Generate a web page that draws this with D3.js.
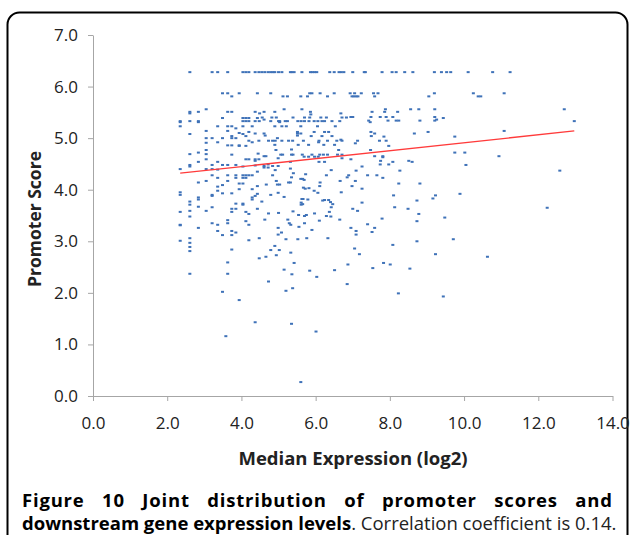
<!DOCTYPE html>
<html>
<head>
<meta charset="utf-8">
<script src="https://cdn.jsdelivr.net/npm/d3@7"></script>
<style>
  body { margin: 0; background: #fff; }
  svg { display: block; }
</style>
</head>
<body>
<svg id="chart" width="630" height="535"></svg>
<script>
// values: [median expression (log2), promoter score]
var scatterPoints = [
  [2.61,6.28],[3.21,6.28],[3.36,6.28],[3.63,6.28],[4.04,6.28],[4.12,6.28],[4.20,6.28],[4.37,6.28],[4.47,6.28],
  [3.49,5.87],[3.63,5.87],[3.94,5.87],[4.43,5.87],[3.74,5.81],[3.05,5.56],
  [2.61,5.51],[2.84,5.51],[3.63,5.51],[3.74,5.51],[4.37,5.51],[2.61,5.48],
  [3.49,5.39],[4.04,5.39],[4.12,5.39],[4.20,5.39],[4.43,5.39],
  [2.35,5.33],[2.61,5.33],[2.84,5.33],[4.04,5.33],[4.12,5.33],[4.20,5.33],[4.37,5.33],[4.48,5.33],
  [2.35,5.31],[2.84,5.31],
  [2.35,5.23],[3.36,5.23],[3.63,5.23],[3.74,5.23],[4.04,5.23],[4.29,5.23],[3.85,5.19],
  [3.05,5.14],[3.63,5.14],[3.94,5.10],[2.61,5.08],[4.04,5.08],[4.20,5.12],[4.37,5.09],[3.74,5.04],[4.12,5.04],
  [3.05,5.00],[3.21,5.00],[3.49,5.00],[3.74,5.00],[3.85,5.00],[4.20,4.95],[4.47,4.95],[3.36,4.92],[4.29,4.92],[3.05,4.91],
  [3.63,4.86],[3.74,4.86],[3.94,4.86],[3.94,4.85],[4.12,4.85],[3.05,4.77],[2.84,4.72],[2.61,4.69],[3.05,4.69],[3.74,4.68],
  [3.05,4.59],[4.12,4.59],[4.20,4.59],[4.37,4.59],[4.47,4.59],[4.37,4.56],[2.84,4.54],[3.36,4.54],
  [2.61,4.48],[3.21,4.48],[3.49,4.48],[3.63,4.48],[3.85,4.48],[2.61,4.45],[4.04,4.45],[4.37,4.47],
  [2.35,4.40],[3.05,4.40],[3.21,4.40],[3.36,4.39],[4.43,4.35],
  [3.21,4.28],[3.63,4.28],[3.85,4.28],[4.04,4.28],[4.12,4.28],[4.20,4.28],[4.29,4.28],
  [3.36,4.23],[3.85,4.23],[4.04,4.23],[4.12,4.23],[3.05,4.17],[3.63,4.17],[2.84,4.14],[3.94,4.12],[4.04,4.12],
  [4.43,4.07],[3.49,4.09],[3.36,4.06],[3.94,4.01],[4.29,4.01],[3.36,3.98],[2.35,3.95],[3.49,3.93],[3.74,3.93],
  [2.35,3.90],[3.21,3.90],[3.21,3.88],[4.37,3.88],[4.43,3.92],[2.84,3.85],[4.29,3.85],[2.84,3.81],[4.29,3.81],
  [2.61,3.77],[3.85,3.73],[4.04,3.73],[2.61,3.71],[4.04,3.71],[2.84,3.67],[3.21,3.66],[3.74,3.63],[3.85,3.63],[4.43,3.63],
  [2.61,3.59],[3.05,3.59],[2.35,3.57],[3.74,3.57],[4.12,3.57],[4.20,3.53],[2.61,3.48],[3.63,3.41],[4.12,3.39],
  [3.21,3.35],[3.63,3.35],[2.35,3.32],[3.36,3.32],[4.20,3.32],[2.35,3.31],[2.84,3.26],[3.36,3.20],[3.74,3.20],[3.85,3.17],
  [3.49,3.12],[3.74,3.12],[2.61,3.06],[4.48,3.06],[4.20,3.02],[2.35,3.01],[2.61,2.97],[2.61,2.89],[3.74,2.84],[2.61,2.81],
  [4.48,2.67],[3.63,2.59],[2.61,2.37],[3.63,2.37],[3.49,2.02],[3.94,1.86],[4.37,1.43],[3.58,1.16],

  [4.55,6.28],[4.63,6.28],[4.72,6.28],[4.79,6.28],[4.85,6.28],[4.90,6.28],[5.00,6.28],[5.09,6.28],[5.32,6.28],[5.36,6.28],
  [5.42,6.28],[5.63,6.28],[5.86,6.28],[5.91,6.28],[5.97,6.28],[6.03,6.28],[6.38,6.28],[6.50,6.28],[6.63,6.28],[6.69,6.28],[6.76,6.28],
  [4.79,5.87],[5.84,5.87],[5.90,5.87],[6.12,5.87],[6.50,5.87],[5.12,5.81],[5.24,5.81],[5.60,5.81],[5.78,5.81],[6.32,5.81],
  [5.15,5.56],[5.63,5.56],[4.61,5.51],[4.90,5.51],[5.86,5.51],[4.49,5.48],[6.68,5.48],[5.87,5.46],
  [4.56,5.40],[4.82,5.40],[4.94,5.40],[5.39,5.40],[5.70,5.40],[5.84,5.40],[6.14,5.40],[6.29,5.40],[6.71,5.40],[6.83,5.40],
  [4.61,5.36],
  [4.79,5.33],[5.00,5.33],[5.03,5.33],[5.18,5.33],[5.24,5.33],[5.52,5.33],[5.61,5.33],[5.70,5.33],[5.82,5.33],[5.96,5.33],
  [6.06,5.33],[6.17,5.33],[6.24,5.33],[6.44,5.33],[6.65,5.33],[5.03,5.31],
  [4.90,5.23],[5.09,5.23],[5.21,5.23],[5.60,5.23],[6.05,5.23],[6.53,5.23],
  [5.51,5.12],[5.96,5.12],[6.24,5.12],[6.35,5.12],[4.61,5.09],[5.51,5.09],[5.60,5.09],[4.64,5.05],[5.51,5.05],
  [5.88,5.04],[6.17,5.04],[6.44,5.04],[4.97,5.00],[6.68,4.97],
  [4.73,4.95],[4.84,4.95],[4.91,4.95],[5.09,4.95],[5.27,4.95],[5.38,4.95],[5.67,4.95],[6.09,4.95],[6.32,4.95],[6.57,4.95],[6.71,4.95],
  [6.08,4.92],[4.90,4.87],[5.53,4.87],[5.81,4.87],[6.22,4.87],[6.51,4.87],[5.35,4.78],[4.93,4.77],[6.62,4.77],[4.45,4.70],
  [5.06,4.68],[5.11,4.68],[5.35,4.68],[5.39,4.68],[5.64,4.68],[5.90,4.68],[6.11,4.68],[6.21,4.68],[6.32,4.68],[6.59,4.68],[6.71,4.68],
  [4.61,4.65],[4.66,4.65],[5.69,4.64],[5.81,4.64],[5.97,4.64],[6.07,4.64],[4.99,4.61],[6.71,4.61],
  [5.32,4.54],[6.09,4.54],[6.24,4.54],[4.72,4.49],[4.61,4.46],[4.84,4.46],[4.99,4.46],[4.61,4.43],[4.72,4.43],[5.32,4.41],
  [4.91,4.38],[6.42,4.38],[5.40,4.32],[5.73,4.30],[4.84,4.28],[6.29,4.28],[5.35,4.24],[6.85,4.24],[5.60,4.21],[5.65,4.21],
  [5.69,4.19],[4.94,4.17],[6.66,4.17],[5.27,4.14],[5.32,4.14],[6.12,4.14],[4.67,4.10],[4.97,4.10],[5.03,4.10],[6.11,4.07],
  [5.67,4.04],[5.82,4.03],[5.72,4.02],[5.96,3.98],[6.69,3.95],[4.99,3.94],[6.06,3.94],[4.79,3.90],[5.15,3.86],
  [5.63,3.82],[5.66,3.82],[5.79,3.81],[6.24,3.80],[6.35,3.80],[6.19,3.79],[4.55,3.77],[6.40,3.76],[5.61,3.75],
  [5.65,3.72],[6.46,3.72],[5.61,3.71],[6.42,3.66],[5.39,3.58],[6.37,3.57],[5.00,3.55],[4.73,3.54],[5.97,3.54],
  [5.54,3.51],[5.75,3.51],[5.70,3.49],[6.29,3.49],[6.41,3.48],[4.63,3.42],[5.25,3.42],[6.65,3.42],[6.10,3.40],
  [5.29,3.35],[5.70,3.35],[5.33,3.32],[5.55,3.28],[4.99,3.26],[5.90,3.22],[5.08,3.17],[4.99,3.13],[5.76,3.06],[6.33,3.06],
  [5.20,3.04],[5.52,3.04],[4.90,2.91],[4.79,2.83],[5.02,2.83],[5.33,2.78],[4.94,2.73],[4.66,2.70],[5.42,2.58],[6.87,2.55],
  [5.15,2.45],[6.51,2.44],[5.84,2.43],[5.36,2.36],[6.03,2.31],[4.73,2.22],[6.85,2.17],[5.38,2.09],[5.20,2.04],
  [5.35,1.40],[6.01,1.25],[5.60,0.27],

  [7.00,6.28],[7.31,6.28],[7.34,6.28],[7.79,6.28],[8.06,6.28],[8.17,6.28],[8.40,6.28],[8.62,6.28],[9.20,6.28],
  [6.93,5.87],[7.05,5.87],[7.23,5.87],[7.56,5.87],[7.68,5.87],[9.20,5.87],
  [6.98,5.81],[7.03,5.81],[7.09,5.81],[7.14,5.81],[7.59,5.81],[9.05,5.81],
  [7.88,5.56],[8.56,5.56],[8.78,5.56],[9.21,5.56],[7.52,5.51],[7.86,5.51],[8.21,5.51],
  [6.95,5.41],[7.00,5.41],[7.49,5.41],[7.74,5.41],[7.90,5.41],[8.08,5.41],[9.21,5.41],
  [7.43,5.34],[7.95,5.34],[8.17,5.34],[8.24,5.34],[8.81,5.34],[9.21,5.34],[7.47,5.31],
  [7.49,5.12],[9.03,5.12],[7.59,5.09],[8.66,5.09],[7.50,5.04],[7.84,5.03],[7.13,4.95],[7.72,4.95],[7.90,4.95],
  [7.07,4.90],[7.97,4.85],[7.48,4.77],[7.59,4.65],[7.81,4.65],[7.81,4.63],[6.95,4.59],[7.75,4.56],[8.51,4.56],
  [8.08,4.54],[8.60,4.54],[7.74,4.49],[7.97,4.49],[7.25,4.45],[7.09,4.37],[8.27,4.37],[6.89,4.28],[7.40,4.28],[7.65,4.28],
  [7.81,4.23],[7.07,4.17],[8.24,4.12],[8.81,4.12],[6.98,4.07],[7.25,4.02],[8.10,3.89],[9.23,3.89],[9.16,3.83],[8.73,3.79],
  [7.25,3.75],[8.13,3.66],[7.00,3.63],[8.49,3.63],[7.13,3.59],[8.78,3.53],[7.79,3.44],[8.73,3.39],[7.40,3.33],
  [6.95,3.26],[7.59,3.26],[7.09,3.20],[7.52,3.18],[7.09,3.13],[8.73,3.00],[8.08,2.93],[7.05,2.86],[7.18,2.75],[9.23,2.75],
  [7.83,2.58],[8.01,2.55],[7.54,2.48],[8.54,2.47],[8.23,1.99],

  [9.39,6.28],[9.53,6.28],[9.64,6.28],[10.11,6.28],[10.77,6.28],[11.24,6.28],[10.25,5.87],[11.08,5.87],[10.38,5.81],[10.45,5.81],
  [9.44,5.39],[9.26,5.36],[11.08,5.14],[9.75,5.03],[9.75,4.72],[10.02,4.72],[10.94,4.65],[10.05,4.48],[9.89,3.92],
  [9.48,3.46],[9.71,3.04],[10.63,2.70],[9.44,1.93],
  [12.70,5.56],[12.97,5.33],[12.58,4.37],[12.24,3.65]
];

// linear trendline as drawn in the figure
var trendSlope = 0.0772;
var trendIntercept = 4.139;

var xTicks = [0, 2, 4, 6, 8, 10, 12, 14];
var yTicks = [0, 1, 2, 3, 4, 5, 6, 7];

var xTitle = "Median Expression (log2)";
var yTitle = "Promoter Score";
var captionLine1 = ["Figure", "10", "Joint", "distribution", "of", "promoter", "scores", "and"];
var captionBold2 = "downstream gene expression levels";
var captionRest2 = ". Correlation coefficient is 0.14.";

var svg = d3.select("#chart");
var fontFam = "'Open Sans', 'DejaVu Sans', sans-serif";

// frame round the figure
svg.append("rect")
    .attr("x", 7.5).attr("y", 12.5)
    .attr("width", 620).attr("height", 620)
    .attr("rx", 12).attr("ry", 12)
    .attr("fill", "none")
    .attr("stroke", "#000")
    .attr("stroke-width", 2);

var x = d3.scaleLinear().domain([0, 14]).range([93, 612.5]);
var y = d3.scaleLinear().domain([0, 7]).range([396, 35]);

// axes
var yAxis = svg.append("g")
    .attr("transform", "translate(" + x(0) + ",0)")
    .call(d3.axisLeft(y).tickValues(yTicks).tickFormat(d3.format(".1f")).tickSize(5).tickSizeOuter(0).tickPadding(10));
var xAxis = svg.append("g")
    .attr("transform", "translate(0," + y(0) + ")")
    .call(d3.axisBottom(x).tickValues(xTicks).tickFormat(d3.format(".1f")).tickSize(5).tickSizeOuter(0).tickPadding(16));

[xAxis, yAxis].forEach(function(a) {
    a.select(".domain").attr("stroke", "#a6a6a6");
    a.selectAll(".tick line").attr("stroke", "#a6a6a6");
    a.selectAll(".tick text")
        .attr("fill", "#222")
        .style("font-family", fontFam)
        .style("font-size", "17px");
});

// points, drawn as the small dashes of the original
svg.append("g").selectAll("rect")
    .data(scatterPoints)
    .join("rect")
    .attr("x", function(d) { return x(d[0]) - 1.5; })
    .attr("y", function(d) { return y(d[1]) - 1; })
    .attr("width", 3)
    .attr("height", 2)
    .attr("fill", "#3f72b8");

// trendline over the range of the data
var xExt = d3.extent(scatterPoints, function(d) { return d[0]; });
svg.append("line")
    .attr("x1", x(xExt[0])).attr("y1", y(trendIntercept + trendSlope * xExt[0]))
    .attr("x2", x(xExt[1])).attr("y2", y(trendIntercept + trendSlope * xExt[1]))
    .attr("stroke", "#ff3b3b")
    .attr("stroke-width", 1.3);

// axis titles
svg.append("text")
    .attr("x", 353).attr("y", 465)
    .attr("text-anchor", "middle")
    .style("font-family", fontFam).style("font-size", "18.5px").style("font-weight", "bold")
    .attr("fill", "#222")
    .text(xTitle);

svg.append("text")
    .attr("transform", "translate(41,219) rotate(-90)")
    .attr("text-anchor", "middle")
    .style("font-family", fontFam).style("font-size", "17.5px").style("font-weight", "bold")
    .attr("fill", "#222")
    .text(yTitle);

// caption, first line justified between the margins
var capLeft = 22, capRight = 612;
var words = svg.append("g").selectAll("text")
    .data(captionLine1)
    .join("text")
    .attr("y", 507)
    .style("font-family", fontFam).style("font-size", "18.5px").style("font-weight", "bold")
    .style("letter-spacing", "0.8px")
    .attr("fill", "#000")
    .text(function(d) { return d; });
var widths = [];
words.each(function() { widths.push(this.getComputedTextLength() - 0.8); });
var gap = (capRight - capLeft - d3.sum(widths)) / (widths.length - 1);
var pos = capLeft;
words.each(function(d, i) {
    d3.select(this).attr("x", pos);
    pos += widths[i] + gap;
});

var line2 = svg.append("text")
    .attr("x", capLeft).attr("y", 530)
    .style("font-family", fontFam).style("font-size", "18.5px")
    .attr("fill", "#000");
line2.append("tspan").style("font-weight", "bold").text(captionBold2);
line2.append("tspan").style("font-weight", "normal").attr("fill", "#222").text(captionRest2);
</script>
</body>
</html>
